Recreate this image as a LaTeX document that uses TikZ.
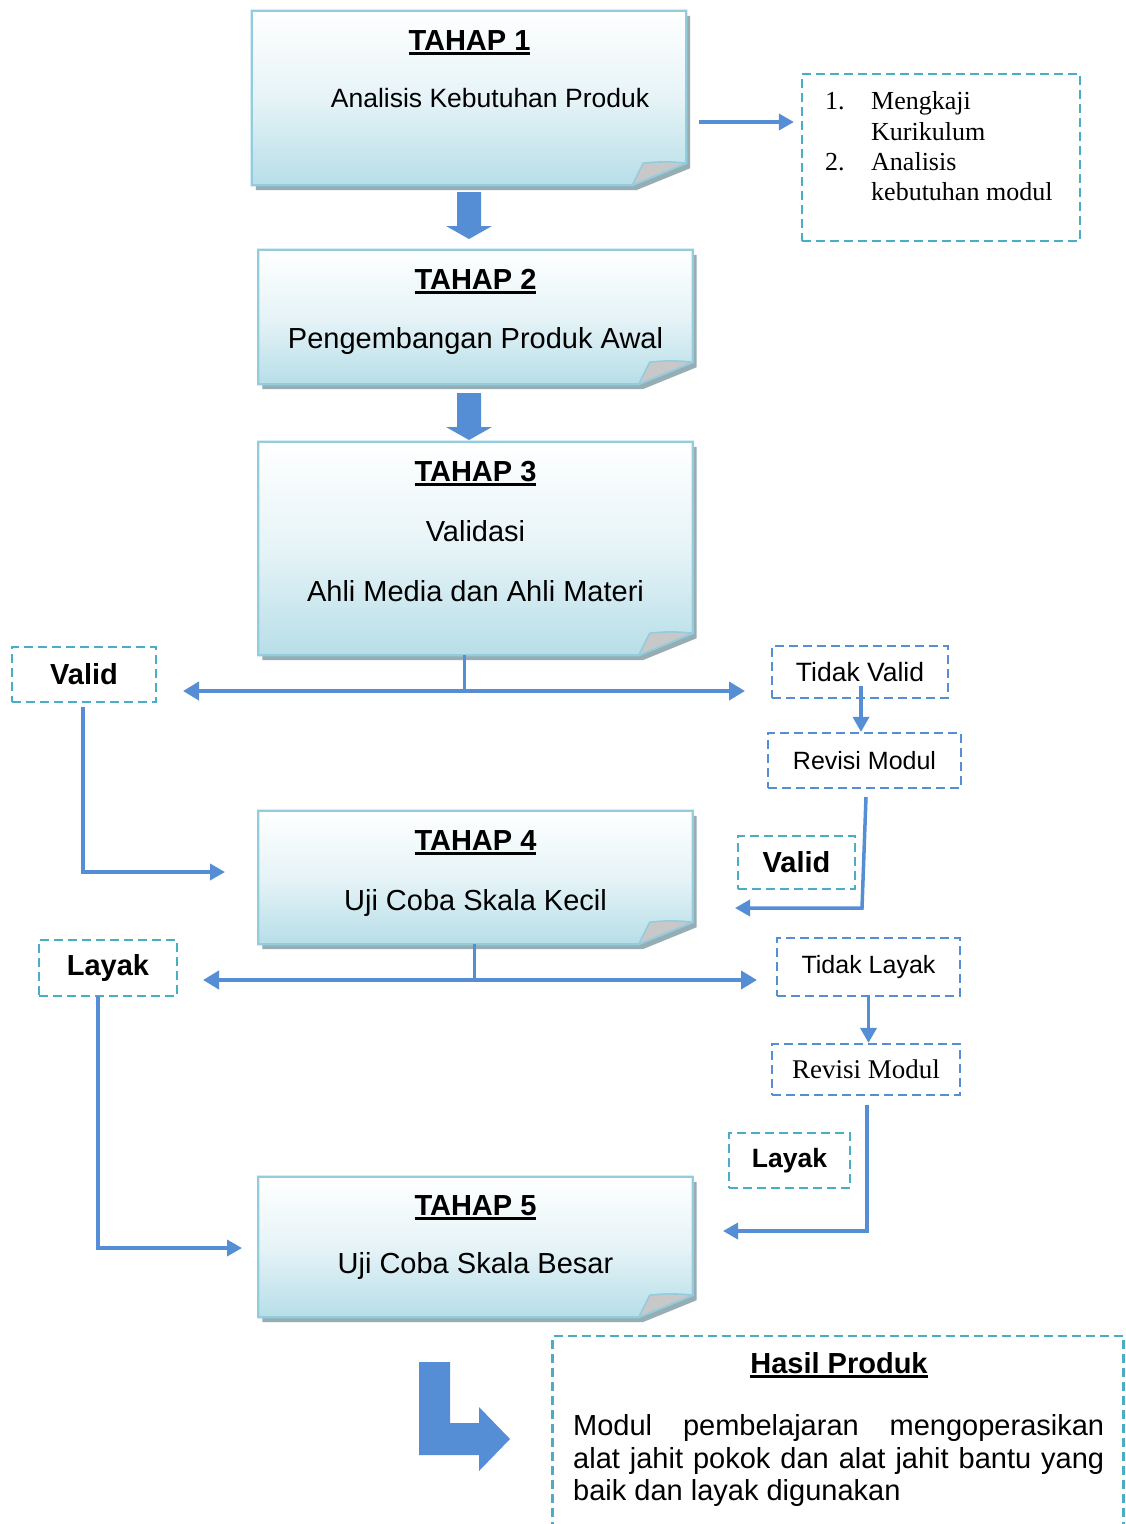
\documentclass[tikz,border=0pt]{standalone}
\usepackage{fontspec}
\setmainfont{Liberation Sans}
\newfontfamily\serifA{Liberation Serif}
\usetikzlibrary{arrows.meta,calc}
\definecolor{boxblue}{HTML}{B7DEE8}
\definecolor{boxline}{HTML}{93CDDD}
\definecolor{shadowc}{HTML}{97ADB4}
\definecolor{foldc}{HTML}{C8C8C8}
\definecolor{arrowc}{HTML}{558ED5}
\definecolor{tealc}{HTML}{4BACC6}
\newcommand\thul[1]{\setbox0\hbox{#1}\rlap{\rule[-5pt]{\wd0}{3pt}}\box0}
\newcommand\fs[1]{\fontsize{#1}{#1}\selectfont}
\newcommand\stagedraw[1]{%
  \fill[shadowc] ($(#1.north west)+(4,5)$) -- ($(#1.north east)+(4,5)$) -- ($(#1.south east)+(4,-17)$) -- ($(#1.south east)+(-50,5)$) -- ($(#1.south west)+(4,5)$) -- cycle;
  \path[top color=white, bottom color=boxblue, middle color=boxblue!35!white, draw=boxline, line width=2.2] (#1.north west) -- (#1.north east) -- ($(#1.south east)+(0,-22)$) -- ($(#1.south east)+(-54,0)$) -- (#1.south west) -- cycle;
  \filldraw[fill=foldc, draw=boxline, line width=1.6, line join=round] ($(#1.south east)+(-54,0)$) -- ($(#1.south east)+(-43,-22)$) to[bend left=6] ($(#1.south east)+(0,-22)$) -- cycle;
}
\newcommand\blockarrow[2]{% top point, total length
  \fill[arrowc] ($(#1)+(-12,0)$) -- ($(#1)+(12,0)$) -- ($(#1)+(12,#2-13)$) -- ($(#1)+(23,#2-13)$) -- ($(#1)+(0,#2)$) -- ($(#1)+(-23,#2-13)$) -- ($(#1)+(-12,#2-13)$) -- cycle;
}
\begin{document}
\begin{tikzpicture}[x=1pt,y=-1pt,
  stagearea/.style={inner sep=0, minimum width=434, minimum height=#1},
  ttl/.style={anchor=base, inner sep=0, font=\bfseries\fs{29}},
  txt/.style={anchor=base, inner sep=0, font=\fs{29}},
  dbox/.style={draw=#1, dash pattern=on 9pt off 5pt, line width=2.2, inner sep=0},
  conn/.style={draw=arrowc, line width=3.5, -{Triangle[length=15pt,width=16pt]}},
  dconn/.style={draw=arrowc, line width=4.5, {Triangle[length=16pt,width=18pt]}-{Triangle[length=16pt,width=18pt]}},
  stem/.style={draw=arrowc, line width=3},
  lst/.style={anchor=base west, inner sep=0, font=\serifA\fs{26}},
]
\fill[white] (0,0) rectangle (1125,1524);
\useasboundingbox (0,0) rectangle (1125,1524);

% stage areas
\node[stagearea=174] (t1) at (469,98) {};
\node[stagearea=134] (t2) at (475.5,317) {};
\node[stagearea=213] (t3) at (475.5,548.5) {};
\node[stagearea=133] (t4) at (475.5,877.5) {};
\node[stagearea=140] (t5) at (475.5,1247) {};
\stagedraw{t1}
\stagedraw{t2}
\stagedraw{t3}
\stagedraw{t4}
\stagedraw{t5}

% stage texts
\node[ttl] (t1a) at (469.5,50) {\thul{TAHAP 1}};
\node[anchor=base, inner sep=0, font=\fs{26.5}] (t1b) at (490,107) {Analisis Kebutuhan Produk};
\node[ttl] (t2a) at (475.5,289) {\thul{TAHAP 2}};
\node[txt] (t2b) at (475.5,348) {Pengembangan Produk Awal};
\node[ttl] (t3a) at (475.5,481) {\thul{TAHAP 3}};
\node[txt] (t3b) at (475.5,541) {Validasi};
\node[txt] (t3c) at (475.5,601) {Ahli Media dan Ahli Materi};
\node[ttl] (t4a) at (475.5,850) {\thul{TAHAP 4}};
\node[txt] (t4b) at (475.5,910) {Uji Coba Skala Kecil};
\node[ttl] (t5a) at (475.5,1215) {\thul{TAHAP 5}};
\node[txt] (t5b) at (475.5,1273) {Uji Coba Skala Besar};

% block arrows between stages
\coordinate (b1) at (469,192);
\coordinate (b2) at (469,393);
\blockarrow{b1}{47}
\blockarrow{b2}{47}

% list box
\node[dbox=tealc, minimum width=278, minimum height=167] (list) at (941,157.5) {};
\node[lst] (l1n) at (825,109) {1.};
\node[lst] (l1) at (871,109) {Mengkaji};
\node[lst] (l1b) at (871,140) {Kurikulum};
\node[lst] (l2n) at (825,170) {2.};
\node[lst] (l2) at (871,170) {Analisis};
\node[lst] (l2b) at (871,200) {kebutuhan modul};
\coordinate (c1) at (699,122);
\draw[conn, shorten >=7pt] (c1) -- (c1 -| list.west);

% dashed label boxes
\node[dbox=tealc, minimum width=144, minimum height=55, font=\bfseries\fs{29}] (va) at (84,674.5) {Valid};
\node[dbox=arrowc, minimum width=176, minimum height=52, font=\fs{26.5}] (tv) at (860,672) {Tidak Valid};
\node[dbox=arrowc, minimum width=193, minimum height=55, font=\fs{25}] (rv1) at (864.5,760.5) {Revisi Modul};
\node[dbox=tealc, minimum width=117, minimum height=53, font=\bfseries\fs{29}] (vb) at (796.5,862.5) {Valid};
\node[dbox=tealc, minimum width=138, minimum height=56, font=\bfseries\fs{29}] (la) at (108,968) {Layak};
\node[dbox=arrowc, minimum width=183, minimum height=58, font=\fs{25}] (tl) at (868.5,967) {Tidak Layak};
\node[dbox=arrowc, minimum width=188, minimum height=51, font=\serifA\fs{27}] (rv2) at (866,1069.5) {Revisi Modul};
\node[dbox=tealc, minimum width=121, minimum height=55, font=\bfseries\fs{26.5}] (lb) at (789.5,1160.5) {Layak};

% connectors after Tahap 3
\coordinate (j3) at (464,691);
\draw[stem] (j3 |- t3.south) -- (j3);
\coordinate (d3l) at (183,691);
\coordinate (d3r) at (745,691);
\draw[dconn] (d3l) -- (d3r);
\coordinate (tvs) at (861,686);
\draw[conn] (tvs) -- (tvs |- rv1.north);
\coordinate (r1s) at (866,797);
\coordinate (r1c) at (862,908);
\coordinate (e4r) at (735,908);
\draw[conn] (r1s) -- (r1c) -- (e4r);
\coordinate (vas) at (83,707);
\coordinate (vac) at (83,872);
\coordinate (e4l) at (225,872);
\draw[conn] (vas) -- (vac) -- (e4l);

% connectors after Tahap 4
\coordinate (j4) at (474,980);
\draw[stem] (j4 |- t4.south) -- (j4);
\coordinate (d4l) at (203,980);
\coordinate (d4r) at (757,980);
\draw[dconn] (d4l) -- (d4r);
\draw[conn] (tl.south) -- (tl.south |- rv2.north);
\coordinate (r2s) at (867,1105);
\coordinate (r2c) at (867,1231);
\coordinate (e5r) at (723,1231);
\draw[conn] (r2s) -- (r2c) -- (e5r);
\coordinate (las) at (98,996);
\coordinate (lac) at (98,1248);
\coordinate (e5l) at (242,1248);
\draw[conn] (las) -- (lac) -- (e5l);

% result
\fill[arrowc] (419,1362) -- (450,1362) -- (450,1423) -- (479,1423) -- (479,1407) -- (510,1439) -- (479,1471) -- (479,1455) -- (419,1455) -- cycle;
\draw[tealc, dash pattern=on 9pt off 5pt, line width=2.2] (552.5,1545) -- (552.5,1336) -- (1123.5,1336) -- (1123.5,1545);
\node[ttl] (hp) at (839,1373) {\thul{Hasil Produk}};
\node[anchor=base west, inner sep=0, font=\fs{29}] (p1) at (573,1435) {\makebox[531pt][s]{Modul pembelajaran mengoperasikan}};
\node[anchor=base west, inner sep=0, font=\fs{29}] (p2) at (573,1468) {\makebox[531pt][s]{alat jahit pokok dan alat jahit bantu yang}};
\node[anchor=base west, inner sep=0, font=\fs{29}] (p3) at (573,1500) {baik dan layak digunakan};
\end{tikzpicture}
\end{document}
